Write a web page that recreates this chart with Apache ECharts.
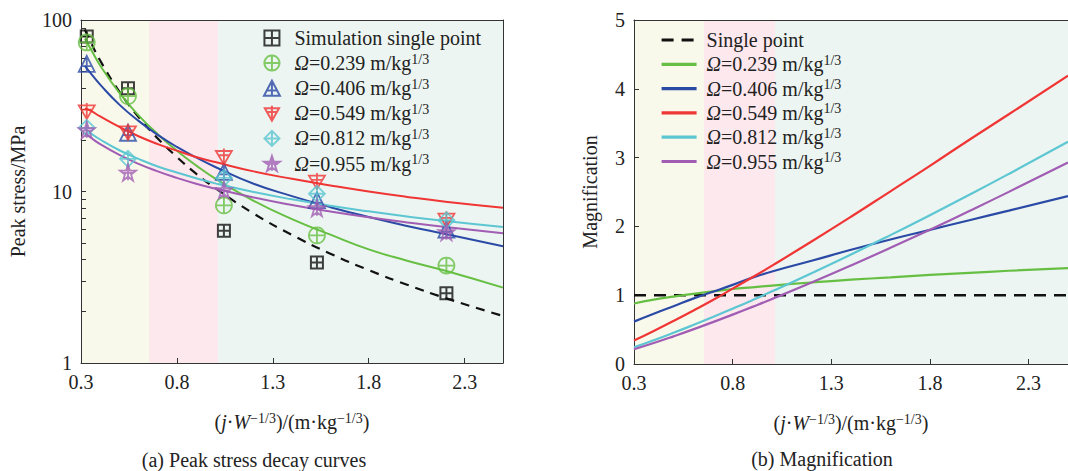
<!DOCTYPE html>
<html>
<head>
<meta charset="utf-8">
<script src="https://cdn.jsdelivr.net/npm/echarts@6/dist/echarts.min.js"></script>
<style>
html,body{margin:0;padding:0;background:#fff;}
#c{width:1068px;height:471px;}
</style>
</head>
<body>
<div id="c"></div>
<script>
// ---------- data ----------
// (a) simulation points
const simX = [0.33, 0.545, 1.045, 1.53, 2.205];
const simSingle = [80, 40, 5.9, 3.85, 2.55];
const sim239 = [74, 36, 8.3, 5.55, 3.7];
const sim406 = [55.5, 22, 13, 8.9, 6.0];
const sim549 = [29.5, 22.3, 16, 11.5, 6.9];
const sim812 = [23.5, 15.5, 12, 9.7, 6.8];
const sim955 = [22.8, 12.9, 10.2, 8.0, 5.8];
// (a) fitted decay curves
const fitX = [0.32, 0.35, 0.4, 0.5, 0.6, 0.7, 0.8, 0.9, 1.0, 1.2, 1.4, 1.6, 1.8, 2.0, 2.2, 2.5];
const fitSingle = [88, 74.5, 58.0, 38.2, 27.2, 20.4, 15.9, 12.7, 10.46, 7.44, 5.58, 4.34, 3.48, 2.86, 2.39, 1.88];
const fit239 = [78, 68, 54.3, 37.6, 27.8, 21.6, 17.3, 14.2, 11.9, 8.83, 6.9, 5.6, 4.6, 3.95, 3.45, 2.75];
const fit406 = [54, 49, 42.0, 32.1, 25.8, 21.4, 18.2, 15.8, 13.9, 11.1, 9.4, 8.1, 7.1, 6.3, 5.65, 4.8];
const fit549 = [30.5, 29.6, 27.4, 23.8, 21.0, 18.9, 17.3, 15.9, 14.85, 13.1, 11.85, 10.85, 10.0, 9.3, 8.72, 8.05];
const fit812 = [23.2, 21.9, 20.1, 17.4, 15.5, 14.0, 12.9, 11.95, 11.15, 9.93, 9.0, 8.26, 7.66, 7.15, 6.72, 6.2];
const fit955 = [21.9, 20.65, 18.9, 16.35, 14.5, 13.1, 12.0, 11.1, 10.4, 9.23, 8.34, 7.64, 7.07, 6.6, 6.2, 5.7];
// (b) magnification curves
const magX = [0.3, 0.4, 0.5, 0.6, 0.7, 0.8, 0.9, 1.0, 1.2, 1.4, 1.6, 1.8, 2.0, 2.2, 2.5];
const magSingleX = [0.3, 2.5];
const magSingle = [1, 1];
const mag239 = [0.88, 0.935, 0.98, 1.02, 1.055, 1.09, 1.115, 1.14, 1.185, 1.225, 1.26, 1.295, 1.325, 1.355, 1.395];
const mag406 = [0.616, 0.73, 0.84, 0.95, 1.05, 1.15, 1.255, 1.345, 1.50, 1.66, 1.81, 1.95, 2.09, 2.23, 2.44];
const mag549 = [0.34, 0.48, 0.625, 0.775, 0.93, 1.095, 1.26, 1.43, 1.78, 2.14, 2.51, 2.88, 3.26, 3.63, 4.19];
const mag812 = [0.243, 0.345, 0.453, 0.566, 0.683, 0.804, 0.928, 1.056, 1.319, 1.591, 1.873, 2.163, 2.459, 2.763, 3.23];
const mag955 = [0.214, 0.305, 0.402, 0.503, 0.609, 0.718, 0.830, 0.945, 1.184, 1.432, 1.689, 1.953, 2.224, 2.502, 2.93];
// zones (background bands)
const zoneEdges = [0.3, 0.655, 1.015, 2.5];
// ticks
const xTicks = [0.3, 0.8, 1.3, 1.8, 2.3];
const yLogLabels = [1, 10, 100];
const yLogTicks = [1,2,3,4,5,6,7,8,9,10,20,30,40,50,60,70,80,90,100];
const yMagTicks = [0, 1, 2, 3, 4, 5];
// legend labels
const omegaVals = ['0.239', '0.406', '0.549', '0.812', '0.955'];

// ---------- styles ----------
const FONT = '"Liberation Serif", "Times New Roman", serif';
const TXT = '#222';
const colors = ['#66bf43', '#2b4aa6', '#f03535', '#5cc6d2', '#a15db3'];
const zoneColors = ['#f9f9eb', '#fde8ee', '#ecf5f1'];

const symSquare = 'path://M2,2H18V18H2Z M10,2V18 M2,10H18';
const symCircle = 'path://M10,1A9,9 0 1,1 9.99,1Z M10,1V19 M1,10H19';
const symTri = 'path://M10,1L19,18H1Z M10,1V18 M4.5,12H15.5';
const symInvTri = 'path://M1,3H19L10,19Z M10,0V19 M4,8H16';
const symDiamond = 'path://M10,1L19,10L10,19L1,10Z M10,1V19 M1,10H19';
const symStar = 'path://M10,1L12.2,7.6H19.1L13.5,11.7L15.6,18.3L10,14.2L4.4,18.3L6.5,11.7L0.9,7.6H7.8Z M10,1V18 M3,10H17';
const syms = [symCircle, symTri, symInvTri, symDiamond, symStar];

function zip(xs, ys){ return xs.map((x,i)=>[x, ys[i]]); }

const richSet = {
  i: {fontStyle: 'italic', fontFamily: FONT, fontSize: 20, color: TXT, lineHeight: 22},
  s: {fontFamily: FONT, fontSize: 14, color: TXT, verticalAlign: 'top', lineHeight: 22},
  n: {fontFamily: FONT, fontSize: 20, color: TXT, lineHeight: 22}
};
const legendText = {};
legendText['sim'] = '{n|Simulation single point}';
legendText['Rsingle'] = '{n|Single point}';
omegaVals.forEach(v => {
  legendText['L' + v] = '{i|Ω}{n|=' + v + ' m/kg}{s|1/3}';
  legendText['R' + v] = '{i|Ω}{n|=' + v + ' m/kg}{s|1/3}';
});

function bandData(){
  const d = [];
  for (let i = 0; i < zoneColors.length; i++) {
    d.push([{xAxis: zoneEdges[i], itemStyle: {color: zoneColors[i], opacity: 1}}, {xAxis: zoneEdges[i+1]}]);
  }
  return d;
}

const axisTxt = {fontFamily: FONT, fontSize: 20, color: TXT};

const xName = '{n|(}{i|j}{n|·}{i|W}{s|−1/3}{n|)/(m·kg}{s|−1/3}{n|)}';

function mainX(grid){
  return {
    gridIndex: grid, type: 'value', min: 0.3, max: 2.5,
    axisLine: {show: true, onZero: false, lineStyle: {color: '#333', width: 1}},
    axisTick: {show: true, inside: true, length: 5, customValues: xTicks, lineStyle: {color: '#333'}},
    axisLabel: Object.assign({customValues: xTicks, margin: 9, formatter: v => Number(v).toFixed(1)}, axisTxt),
    splitLine: {show: false},
    name: xName, nameLocation: 'middle', nameGap: 48,
    nameTextStyle: {rich: richSet}
  };
}
function frameX(grid){
  return {gridIndex: grid, type: 'value', min: 0.3, max: 2.5, position: 'top',
    axisLine: {show: true, onZero: false, lineStyle: {color: '#333', width: 1}},
    axisTick: {show: false}, axisLabel: {show: false}, splitLine: {show: false}};
}

const series = [];
// bands
series.push({type: 'line', xAxisIndex: 0, yAxisIndex: 0, data: [], silent: true, z: 0,
  markArea: {silent: true, z: 0, data: bandData()}});
series.push({type: 'line', xAxisIndex: 2, yAxisIndex: 2, data: [], silent: true, z: 0,
  markArea: {silent: true, z: 0, data: bandData()}});

// (a) fit lines
series.push({name: 'fitS', type: 'line', xAxisIndex: 0, yAxisIndex: 0, data: zip(fitX, fitSingle),
  smooth: true, symbol: 'none', z: 3, lineStyle: {color: '#111', width: 2.2, type: [9, 7]}});
[fit239, fit406, fit549, fit812, fit955].forEach((arr, i) => {
  series.push({name: 'fit' + i, type: 'line', xAxisIndex: 0, yAxisIndex: 0, data: zip(fitX, arr),
    smooth: true, symbol: 'none', z: 3, lineStyle: {color: colors[i], width: 2}});
});
// (a) points
series.push({name: 'sim', type: 'scatter', xAxisIndex: 0, yAxisIndex: 0, data: zip(simX, simSingle),
  symbol: symSquare, symbolSize: 12, z: 5,
  itemStyle: {color: 'rgba(0,0,0,0)', borderColor: '#111', borderWidth: 2}});
[sim239, sim406, sim549, sim812, sim955].forEach((arr, i) => {
  series.push({name: 'L' + omegaVals[i], type: 'scatter', xAxisIndex: 0, yAxisIndex: 0, data: zip(simX, arr),
    symbol: syms[i], symbolSize: 16, z: 5,
    itemStyle: {color: 'rgba(0,0,0,0)', borderColor: colors[i], borderWidth: 1.8}});
});

// (b) lines
series.push({name: 'Rsingle', type: 'line', xAxisIndex: 2, yAxisIndex: 2, data: zip(magSingleX, magSingle),
  symbol: 'none', z: 3, lineStyle: {color: '#111', width: 2.6, type: [12, 8]}, itemStyle: {color: '#111'}});
[mag239, mag406, mag549, mag812, mag955].forEach((arr, i) => {
  series.push({name: 'R' + omegaVals[i], type: 'line', xAxisIndex: 2, yAxisIndex: 2, data: zip(magX, arr),
    smooth: true, symbol: 'none', z: 3, lineStyle: {color: colors[i], width: 2.2}, itemStyle: {color: colors[i]}});
});

const option = {
  backgroundColor: '#fff',
  animation: false,
  grid: [
    {left: 81, top: 20, width: 422, height: 343, show: false},
    {left: 634, top: 20, width: 437, height: 344, show: false}
  ],
  xAxis: [mainX(0), frameX(0), mainX(1), frameX(1)],
  yAxis: [
    {gridIndex: 0, type: 'log', logBase: 10, min: 1, max: 100,
      axisLine: {show: true, onZero: false, lineStyle: {color: '#333', width: 1}},
      axisTick: {show: true, inside: true, length: 5, customValues: yLogTicks, lineStyle: {color: '#333'}},
      axisLabel: Object.assign({customValues: yLogLabels, margin: 9, formatter: v => String(Math.round(v))}, axisTxt),
      splitLine: {show: false}, minorTick: {show: false},
      name: 'Peak stress/MPa', nameLocation: 'middle', nameRotate: 90, nameGap: 53,
      nameTextStyle: {fontFamily: FONT, fontSize: 20, color: TXT}},
    {gridIndex: 0, type: 'log', logBase: 10, min: 1, max: 100, position: 'right',
      axisLine: {show: true, onZero: false, lineStyle: {color: '#333', width: 1}},
      axisTick: {show: false}, axisLabel: {show: false}, splitLine: {show: false}},
    {gridIndex: 1, type: 'value', min: 0, max: 5,
      axisLine: {show: true, onZero: false, lineStyle: {color: '#333', width: 1}},
      axisTick: {show: true, inside: true, length: 5, customValues: yMagTicks, lineStyle: {color: '#333'}},
      axisLabel: Object.assign({customValues: yMagTicks, margin: 9}, axisTxt),
      splitLine: {show: false},
      name: 'Magnification', nameLocation: 'middle', nameRotate: 90, nameGap: 34,
      nameTextStyle: {fontFamily: FONT, fontSize: 20, color: TXT}},
    {gridIndex: 1, type: 'value', min: 0, max: 5, position: 'right',
      axisLine: {show: true, onZero: false, lineStyle: {color: '#333', width: 1}},
      axisTick: {show: false}, axisLabel: {show: false}, splitLine: {show: false}}
  ],
  legend: [
    {data: ['sim'].concat(omegaVals.map(v => 'L' + v)), orient: 'vertical', left: 263, top: 28, padding: 0,
      itemWidth: 17, itemHeight: 15, itemGap: 4.1, selectedMode: false,
      formatter: n => legendText[n], textStyle: {rich: richSet, padding: [0,0,0,9]}},
    {data: ['Rsingle'].concat(omegaVals.map(v => 'R' + v)), orient: 'vertical', left: 660, top: 30, padding: 0,
      itemWidth: 35, itemHeight: 14, itemGap: 3.3, selectedMode: false,
      lineStyle: {width: 3.2}, itemStyle: {opacity: 0},
      formatter: n => legendText[n], textStyle: {rich: richSet, padding: [0,0,0,5]}}
  ],
  graphic: [
    {type: 'text', style: {text: '(a) Peak stress decay curves', x: 254, y: 460,
      textAlign: 'center', textVerticalAlign: 'middle', font: '20px ' + FONT, fill: TXT}},
    {type: 'text', style: {text: '(b) Magnification', x: 822, y: 459,
      textAlign: 'center', textVerticalAlign: 'middle', font: '20px ' + FONT, fill: TXT}}
  ],
  series: series
};

const chart = echarts.init(document.getElementById('c'), null, {renderer: 'svg'});
chart.setOption(option);
</script>
</body>
</html>
